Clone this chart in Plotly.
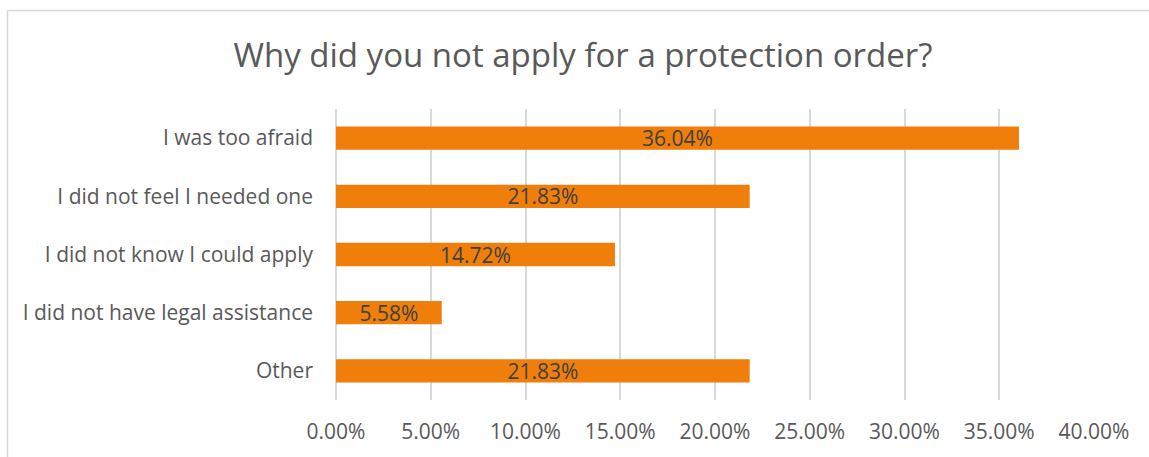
import plotly.graph_objects as go

# Survey responses (share of respondents)
categories = [
    "I was too afraid",
    "I did not feel I needed one",
    "I did not know I could apply",
    "I did not have legal assistance",
    "Other",
]
shares = [0.3604, 0.2183, 0.1472, 0.0558, 0.2183]
x_ticks = [0, 0.05, 0.10, 0.15, 0.20, 0.25, 0.30, 0.35, 0.40]

W, H = 1149, 457
ML, MR, MT, MB = 336, 55, 109, 57
PW, PH = W - ML - MR, H - MT - MB

fig = go.Figure(
    go.Bar(
        y=categories,
        x=shares,
        orientation="h",
        marker=dict(color="#EF7F0A", line=dict(width=0)),
        text=[f"{v*100:.2f}%" for v in shares],
        textposition="inside",
        insidetextanchor="middle",
        constraintext="none",
        textfont=dict(color="#404040", size=21, family="Open Sans"),
        cliponaxis=False,
    )
)

# Chart frame (left and top edges)
def px_to_paper_x(px):
    return (px - ML) / PW

def px_to_paper_y(py):
    return (H - MB - py) / PH

frame = dict(color="#D9D9D9", width=1.5)
fig.add_shape(type="line", xref="paper", yref="paper",
              x0=px_to_paper_x(7.5), x1=px_to_paper_x(7.5),
              y0=px_to_paper_y(10.5), y1=px_to_paper_y(470), line=frame)
fig.add_shape(type="line", xref="paper", yref="paper",
              x0=px_to_paper_x(7.5), x1=px_to_paper_x(1160),
              y0=px_to_paper_y(10.5), y1=px_to_paper_y(10.5), line=frame)

fig.update_layout(
    width=W,
    height=H,
    margin=dict(l=ML, r=MR, t=MT, b=MB, pad=0),
    paper_bgcolor="white",
    plot_bgcolor="white",
    bargap=0.6,
    showlegend=False,
    title=dict(
        text="Why did you not apply for a protection order?",
        x=583 / W,
        xanchor="center",
        y=1 - 55 / H,
        yanchor="middle",
        font=dict(family="Open Sans", size=33, color="#595959"),
    ),
    xaxis=dict(
        range=[0, 0.40],
        tickvals=x_ticks,
        tickformat=".2%",
        showgrid=True,
        gridcolor="#D9D9D9",
        gridwidth=1.5,
        zeroline=True,
        zerolinecolor="#D9D9D9",
        zerolinewidth=1.5,
        showline=False,
        ticks="",
        ticklabelstandoff=17,
        tickfont=dict(family="Open Sans", size=21, color="#595959"),
        fixedrange=True,
    ),
    yaxis=dict(
        categoryorder="array",
        categoryarray=categories[::-1],
        showgrid=False,
        zeroline=False,
        showline=False,
        ticks="",
        ticklabelstandoff=22,
        tickfont=dict(family="Open Sans", size=21, color="#595959"),
        fixedrange=True,
    ),
)

fig.write_html("out.html")
